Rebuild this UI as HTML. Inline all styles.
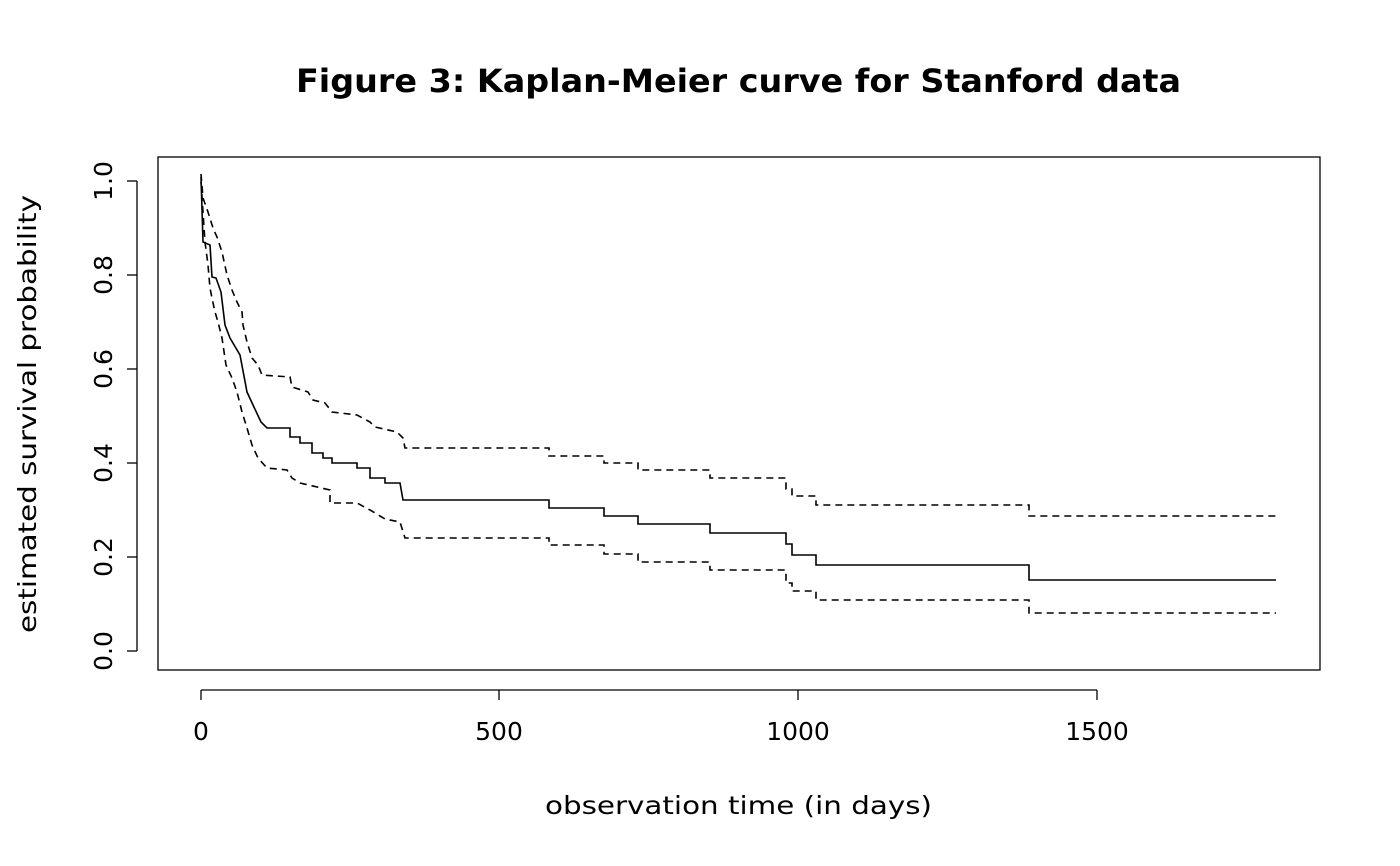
<!DOCTYPE html>
<html><head><style>body{margin:0;background:#fff}svg{display:block}text{font-family:"DejaVu Sans","Liberation Sans",sans-serif;fill:#000}</style></head>
<body>
<svg width="1400" height="866" viewBox="0 0 1400 866" xmlns="http://www.w3.org/2000/svg">
<text x="296" y="92" font-size="32" font-weight="bold" textLength="885" lengthAdjust="spacingAndGlyphs">Figure 3: Kaplan-Meier curve for Stanford data</text>
<rect x="158" y="157" width="1162" height="513" fill="none" stroke="#000" stroke-width="1.3"/>
<g stroke="#000" stroke-width="1.3" fill="none">
<line x1="137" y1="181" x2="137" y2="651"/>
<line x1="127" y1="181" x2="137" y2="181"/><line x1="127" y1="275" x2="137" y2="275"/><line x1="127" y1="369" x2="137" y2="369"/><line x1="127" y1="463" x2="137" y2="463"/><line x1="127" y1="557" x2="137" y2="557"/><line x1="127" y1="651" x2="137" y2="651"/>
<line x1="201" y1="690" x2="1097" y2="690"/>
<line x1="201" y1="690" x2="201" y2="700"/><line x1="499" y1="690" x2="499" y2="700"/><line x1="798" y1="690" x2="798" y2="700"/><line x1="1097" y1="690" x2="1097" y2="700"/>
</g>
<g font-size="25" text-anchor="middle">
<text x="201" y="740">0</text><text x="499" y="740">500</text><text x="798" y="740">1000</text><text x="1097" y="740">1500</text>
<text transform="translate(112,181) rotate(-90)">1.0</text>
<text transform="translate(112,275) rotate(-90)">0.8</text>
<text transform="translate(112,369) rotate(-90)">0.6</text>
<text transform="translate(112,463) rotate(-90)">0.4</text>
<text transform="translate(112,557) rotate(-90)">0.2</text>
<text transform="translate(112,651) rotate(-90)">0.0</text>
</g>
<g font-size="25">
<text x="545" y="814" textLength="387" lengthAdjust="spacingAndGlyphs">observation time (in days)</text>
<text transform="translate(36,633) rotate(-90)" textLength="438" lengthAdjust="spacingAndGlyphs">estimated survival probability</text>
</g>
<g fill="none" stroke="#000" stroke-width="1.6">
<polyline points="201,177 203,242 210,245 212,277 216,278 221,292 225,325 230,338 240,355 247,392 253,405 261,422 267,428 290,428 290,437 300,437 300,443 312,443 312,453 323,453 323,458 332,458 332,463 357,463 357,468 370,468 370,478 385,478 385,483 400,483 403,500 549,500 549,508 604,508 604,516 638,516 638,524 710,524 710,533 786,533 786,544 792,544 792,555 816,555 816,565 1029,565 1029,580 1276,580"/>
<g stroke-dasharray="7,5">
<polyline points="201,174 203,198 208,212 213,228 217,237 222,252 227,275 232,290 237,302 242,312 243,325 247,342 252,358 258,365 262,375 290,377 292,387 308,392 313,400 325,403 332,412 357,415 370,422 375,427 397,432 403,438 405,448 549,448 549,456 604,456 604,463 638,463 638,470 710,470 710,478 786,478 786,489 792,489 792,496 816,496 816,505 1029,505 1029,516 1276,516"/>
<polyline points="201,182 203,212 205,242 208,265 210,288 212,298 215,312 218,322 222,338 226,365 232,378 237,392 242,412 247,428 252,445 258,458 267,468 287,470 292,478 300,483 330,490 330,503 357,503 370,510 385,519 400,522 405,538 549,538 549,545 604,545 604,554 638,554 638,562 710,562 710,570 786,570 786,583 792,583 792,591 816,591 816,600 1029,600 1029,613 1276,613"/>
</g>
</g>
</svg>
</body></html>
